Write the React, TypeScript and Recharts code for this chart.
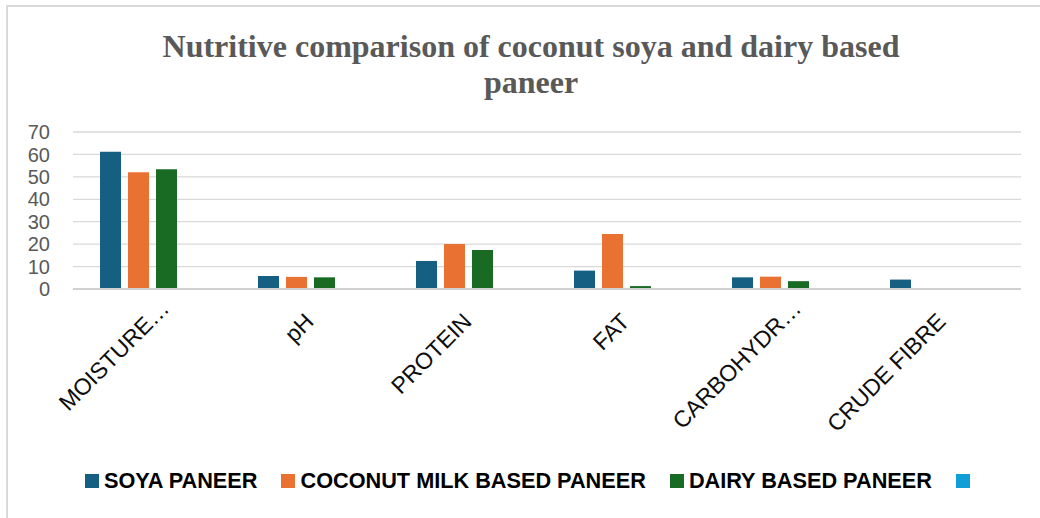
import { BarChart, Bar, XAxis, YAxis, CartesianGrid } from 'recharts'

// nutrient categories as shown on the x axis (Excel cut the long ones)
const categories = ['MOISTURE…', 'pH', 'PROTEIN', 'FAT', 'CARBOHYDR…', 'CRUDE FIBRE']

const soyaPaneer = [61.2, 5.8, 12.5, 8.2, 5.2, 4.2]
const coconutPaneer = [52.1, 5.4, 20.1, 24.5, 5.5, null]
const dairyPaneer = [53.4, 5.2, 17.4, 1.3, 3.5, null]
const blankSeries = [null, null, null, null, null, null]

const yTicks = [0, 10, 20, 30, 40, 50, 60, 70]

const seriesNames = ['SOYA PANEER', 'COCONUT MILK BASED PANEER', 'DAIRY BASED PANEER', '']
const seriesKeys = ['soya', 'coconut', 'dairy', 'blank']
const seriesColors = ['#156082', '#E97132', '#196B24', '#0F9ED5']

const titleLines = ['Nutritive comparison of coconut soya and dairy based', 'paneer']

const chartData = categories.map((name, i) => ({
  name,
  soya: soyaPaneer[i],
  coconut: coconutPaneer[i],
  dairy: dairyPaneer[i],
  blank: blankSeries[i],
}))

const SANS = '"Liberation Sans", Arial, sans-serif'

const XTick = (props: any) => {
  const { x, y, payload } = props
  const label = String(payload.value)
  // truncated labels sit a bit further up the diagonal in the original
  const cut = label.endsWith('…')
  const ax = x + (cut ? 18.5 : 5)
  const ay = y + (cut ? 21 : 34)
  return (
    <text
      x={ax}
      y={ay}
      transform={`rotate(-45, ${ax}, ${ay})`}
      textAnchor="end"
      fontFamily={SANS}
      fontSize={23}
      fill="#0d0d0d"
    >
      {label}
    </text>
  )
}

export default function App() {
  return (
    <div
      style={{
        position: 'absolute',
        left: 0,
        top: 0,
        width: 1040,
        height: 518,
        overflow: 'hidden',
        background: '#fff',
      }}
    >
      {/* chart frame, only top and left edges fall inside the picture */}
      <div
        style={{
          position: 'absolute',
          left: 6,
          top: 5,
          width: 1100,
          height: 600,
          border: '2px solid #d9d9d9',
        }}
      />

      <svg width={1040} height={110} style={{ position: 'absolute', left: 0, top: 0 }}>
        {titleLines.map((line, i) => (
          <text
            key={i}
            x={531}
            y={57 + i * 36}
            textAnchor="middle"
            fontFamily='"Liberation Serif", "Times New Roman", serif'
            fontWeight="bold"
            fontSize={32}
            fill="#595959"
          >
            {line}
          </text>
        ))}
      </svg>

      <div style={{ position: 'absolute', left: 0, top: 0 }}>
        <BarChart
          width={1040}
          height={518}
          data={chartData}
          margin={{ top: 132, right: 19, left: 0, bottom: 0 }}
          barSize={21}
          barGap={7}
        >
          <CartesianGrid vertical={false} stroke="#d9d9d9" strokeWidth={1.3} />
          <XAxis
            dataKey="name"
            interval={0}
            height={229}
            tickLine={false}
            tickSize={0}
            tickMargin={0}
            axisLine={{ stroke: '#d0d0d0', strokeWidth: 2 }}
            tick={<XTick />}
          />
          <YAxis
            width={73}
            domain={[0, 70]}
            ticks={yTicks}
            interval={0}
            axisLine={false}
            tickLine={false}
            tickSize={0}
            tickMargin={23}
            tick={{ fill: '#595959', fontSize: 20, fontFamily: SANS }}
          />
          {seriesKeys.map((key, i) => (
            <Bar key={key} dataKey={key} name={seriesNames[i]} fill={seriesColors[i]} isAnimationActive={false} />
          ))}
        </BarChart>
      </div>

      {/* legend */}
      <div
        style={{
          position: 'absolute',
          left: 85,
          top: 470,
          height: 22,
          display: 'flex',
          alignItems: 'center',
          fontFamily: SANS,
          fontWeight: 'bold',
          fontSize: 21.7,
          lineHeight: 1,
          color: '#000',
          whiteSpace: 'nowrap',
        }}
      >
        {seriesNames.map((name, i) => (
          <div key={i} style={{ display: 'flex', alignItems: 'center', marginRight: 24 }}>
            <div style={{ width: 14, height: 14, background: seriesColors[i] }} />
            {name && <span style={{ marginLeft: 5 }}>{name}</span>}
          </div>
        ))}
      </div>
    </div>
  )
}
